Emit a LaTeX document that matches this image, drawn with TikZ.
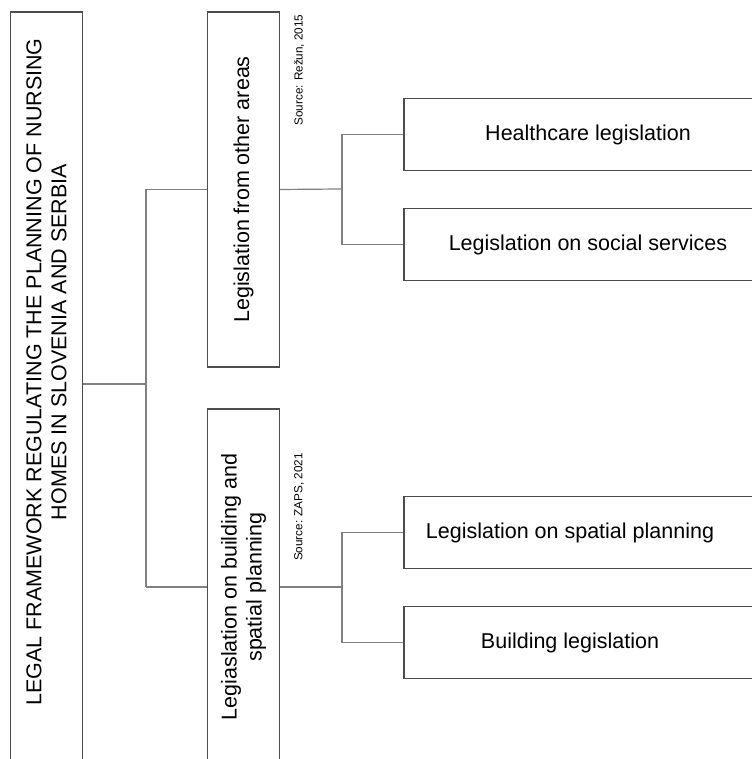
\documentclass[tikz,border=0pt]{standalone}
\usepackage{fontspec}
\setmainfont{Liberation Sans}
\usetikzlibrary{positioning}

\begin{document}
\begin{tikzpicture}[x=1pt,y=1pt,
   box/.style={draw=black!70, line width=1.2pt, inner sep=0pt,
      font=\fontsize{21.5}{25}\selectfont},
   vbox/.style={box, rotate=90, minimum height=72pt, align=center},
   leaf/.style={box, minimum width=368pt, minimum height=72pt},
   src/.style={rotate=90, inner sep=0pt, font=\fontsize{11.7}{14}\selectfont},
   link/.style={draw=black!50, line width=1.2pt}]
   \useasboundingbox (0,0) rectangle (751,759);

   % left column (rotated: north is left, south is right)
   \node (root) [vbox, minimum width=762pt] at (46.5,366)
      {\hspace*{42pt}LEGAL FRAMEWORK REGULATING THE PLANNING OF NURSING\\
       \hspace*{102pt}HOMES IN SLOVENIA AND SERBIA};

   % middle column
   \node (other) [vbox, minimum width=355pt] at (243.5,569.5)
      {Legislation from other areas};
   \node (build) [vbox, minimum width=356pt] at (243.5,172)
      {Legiaslation on building and\\ spatial planning};
   \node (src1) [src] at (299,689) {Source: Režun, 2015};
   \node (src2) [src] at (299,252) {Source: ZAPS, 2021};

   % right column
   \node (health) [leaf] at (588,624.5) {Healthcare legislation};
   \node (social) [leaf, below=37pt of health] {Legislation on social services};
   \node (spatial) [leaf] at (588,226.5) {Legislation on spatial planning\kern36pt};
   \node (buildlaw) [leaf, below=37pt of spatial] {Building legislation\kern36pt};

   % forks
   \coordinate (hub) at (146,375);
   \coordinate (fork1) at (342,570);
   \coordinate (fork2) at (342,172);

   \draw[link] (hub -| root.south) -- (hub);
   \draw[link] (hub |- other.north) -- (hub |- build.north);
   \draw[link] (hub |- other.north) -- (other.north);
   \draw[link] (hub |- build.north) -- (build.north);

   \draw[link] (other.south) -- (fork1);
   \draw[link] (fork1 |- health.west) -- (fork1 |- social.west);
   \draw[link] (fork1 |- health.west) -- (health.west);
   \draw[link] (fork1 |- social.west) -- (social.west);

   \draw[link] (build.south) -- (fork2);
   \draw[link] (fork2 |- spatial.west) -- (fork2 |- buildlaw.west);
   \draw[link] (fork2 |- spatial.west) -- (spatial.west);
   \draw[link] (fork2 |- buildlaw.west) -- (buildlaw.west);
\end{tikzpicture}
\end{document}
